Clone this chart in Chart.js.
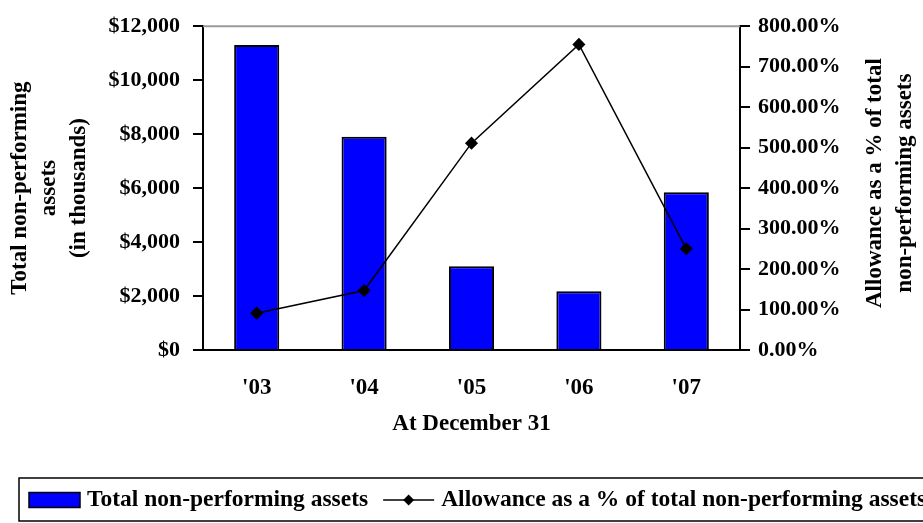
<!DOCTYPE html>
<html>
<head>
<meta charset="utf-8">
<script src="https://cdn.jsdelivr.net/npm/chart.js@4.4.0/dist/chart.umd.min.js"></script>
<style>
    html, body { margin: 0; padding: 0; background: #fff; }
</style>
</head>
<body>
<canvas id="npa-chart" width="923" height="523"></canvas>
<script>
const years = ["'03", "'04", "'05", "'06", "'07"];
const nonPerforming = [11300, 7900, 3100, 2180, 5850];   // $ thousands
const allowancePct = [91, 147, 511, 755, 250];           // %
const leftAxisTitle = ['Total non-performing', 'assets', '(in thousands)'];
const rightAxisTitle = ['Allowance as a % of total', 'non-performing assets'];
const xAxisTitle = 'At December 31';
const barLabel = 'Total non-performing assets';
const lineLabel = 'Allowance as a % of total non-performing assets';

const FONT = "'Liberation Serif', 'Times New Roman', serif";
Chart.defaults.font.family = FONT;
Chart.defaults.font.weight = 'bold';
Chart.defaults.color = '#000';

// right title reads bottom-to-top, legend box runs off the right edge, gray top frame line
const extras = {
    id: 'extras',
    afterDraw(chart) {
        const ctx = chart.ctx;
        const area = chart.chartArea;
        const yR = chart.scales.yR;
        ctx.save();

        ctx.strokeStyle = '#9a9a9a';
        ctx.lineWidth = 2;
        ctx.beginPath();
        ctx.moveTo(area.left, area.top);
        ctx.lineTo(area.right, area.top);
        ctx.stroke();

        ctx.fillStyle = '#000';
        ctx.font = 'bold 23px ' + FONT;
        ctx.textAlign = 'center';
        ctx.textBaseline = 'middle';
        const midY = (area.top + area.bottom) / 2 - 5;
        rightAxisTitle.forEach((t, i) => {
            ctx.save();
            ctx.translate(yR.left + 135 + i * 30, midY);
            ctx.rotate(-Math.PI / 2);
            ctx.fillText(t, 0, 0);
            ctx.restore();
        });

        // legend
        const top = 478, bottom = 521, cy = 500;
        ctx.strokeStyle = '#000';
        ctx.lineWidth = 1.5;
        ctx.strokeRect(19, top, 1000, bottom - top);

        const bar = chart.data.datasets[0];
        const line = chart.data.datasets[1];
        ctx.font = 'bold 23.5px ' + FONT;
        let x = 29;
        ctx.fillStyle = bar.backgroundColor;
        ctx.fillRect(x, cy - 7.5, 51, 15);
        ctx.strokeStyle = bar.borderColor;
        ctx.strokeRect(x, cy - 7.5, 51, 15);
        x += 58;
        ctx.fillStyle = '#000';
        ctx.textAlign = 'left';
        ctx.fillText(bar.label, x, cy);
        x += ctx.measureText(bar.label).width + 15;

        ctx.strokeStyle = line.borderColor;
        ctx.lineWidth = 1.5;
        ctx.beginPath();
        ctx.moveTo(x, cy);
        ctx.lineTo(x + 51, cy);
        ctx.stroke();
        ctx.fillStyle = line.pointBackgroundColor;
        ctx.beginPath();
        ctx.moveTo(x + 25.5, cy - 5.5);
        ctx.lineTo(x + 31, cy);
        ctx.lineTo(x + 25.5, cy + 5.5);
        ctx.lineTo(x + 20, cy);
        ctx.closePath();
        ctx.fill();
        x += 58;
        ctx.fillStyle = '#000';
        ctx.fillText(line.label, x, cy);

        ctx.restore();
    }
};

new Chart(document.getElementById('npa-chart'), {
    type: 'bar',
    data: {
        labels: years,
        datasets: [
            {
                type: 'bar',
                label: barLabel,
                data: nonPerforming,
                yAxisID: 'y',
                backgroundColor: '#0000ff',
                borderColor: '#000',
                borderWidth: 2,
                categoryPercentage: 1,
                barPercentage: 0.42,
                order: 2,
            },
            {
                type: 'line',
                label: lineLabel,
                data: allowancePct,
                yAxisID: 'yR',
                borderColor: '#000',
                borderWidth: 1.5,
                pointStyle: 'rectRot',
                pointRadius: 5.5,
                pointBackgroundColor: '#000',
                pointBorderColor: '#000',
                tension: 0,
                order: 1,
            },
        ],
    },
    options: {
        responsive: false,
        animation: false,
        devicePixelRatio: 1,
        layout: { padding: { top: 20, bottom: 83, left: 0, right: 0 } },
        plugins: { legend: { display: false }, tooltip: { enabled: false } },
        scales: {
            x: {
                grid: { display: false, drawTicks: false },
                border: { display: true, color: '#000', width: 2 },
                ticks: { font: { size: 23 }, padding: 24 },
                title: { display: true, text: xAxisTitle, font: { size: 23 }, padding: { top: 0, bottom: 2 } },
                afterFit(s) { s.height = 90; },
            },
            y: {
                position: 'left',
                min: 0,
                max: 12000,
                grid: { drawOnChartArea: false, color: '#000', lineWidth: 2, tickLength: 10 },
                border: { color: '#000', width: 2 },
                ticks: {
                    stepSize: 2000,
                    padding: 13,
                    font: { size: 22 },
                    callback: (v) => '$' + v.toLocaleString('en-US'),
                },
                title: {
                    display: true,
                    text: leftAxisTitle,
                    font: { size: 23, lineHeight: 1.28 },
                    padding: { top: 5, bottom: 0 },
                },
                afterFit(s) { s.width = 203; },
            },
            yR: {
                position: 'right',
                min: 0,
                max: 800,
                grid: { drawOnChartArea: false, color: '#000', lineWidth: 2, tickLength: 10 },
                border: { color: '#000', width: 2 },
                ticks: {
                    stepSize: 100,
                    padding: 8,
                    font: { size: 22 },
                    callback: (v) => v.toFixed(2) + '%',
                },
                afterFit(s) { s.width = 183; },
            },
        },
    },
    plugins: [extras],
});
</script>
</body>
</html>
